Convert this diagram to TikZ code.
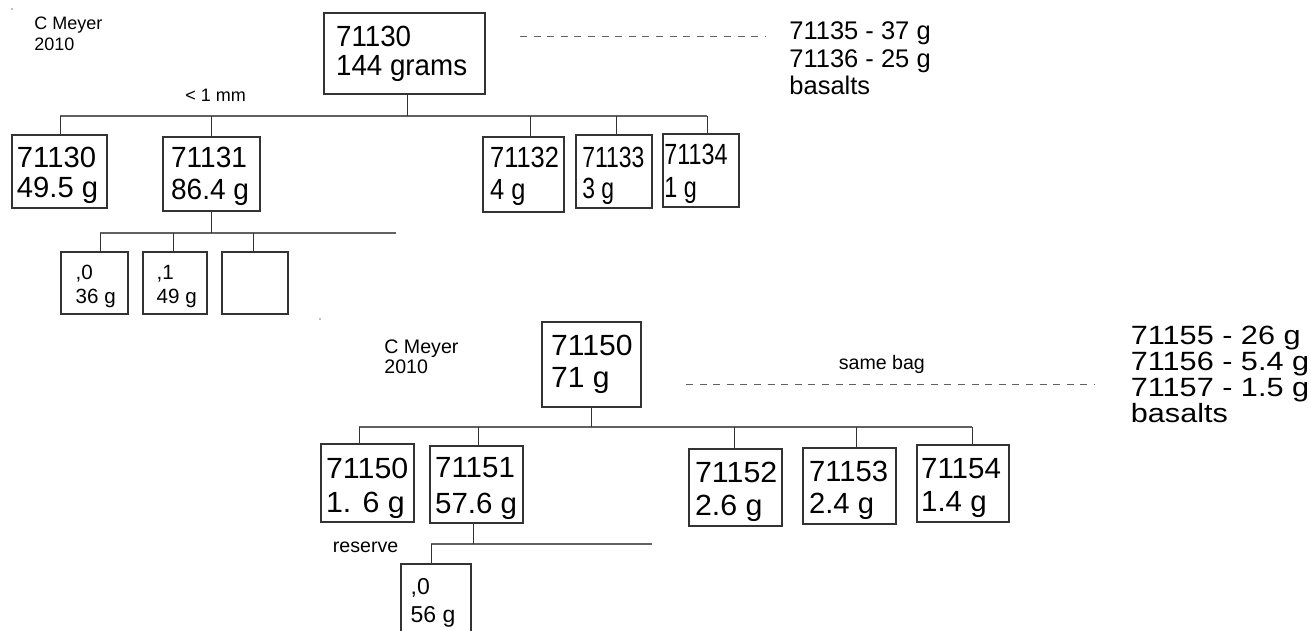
\documentclass[tikz,border=0pt]{standalone}
\usepackage{fontspec}
\setmainfont{Liberation Sans}
\usepackage{graphicx}
\usetikzlibrary{fit}
\definecolor{busgray}{gray}{0.38}
\definecolor{linegray}{gray}{0.2}
\newcommand\bxfont{\fontsize{14.6}{17}\selectfont}
\newcommand\smfont{\fontsize{9}{11}\selectfont}
\newcommand\smfontb{\fontsize{9.8}{11}\selectfont}
\newcommand\tinyboxfont{\fontsize{10.3}{12}\selectfont}
\newcommand\midboxfont{\fontsize{11.5}{14}\selectfont}
\newcommand\rtfont{\fontsize{12.75}{14}\selectfont}
\newcommand\rtfontb{\fontsize{13.2}{14}\selectfont}
\newcommand\twol[3]{\vtop{\baselineskip=#1\hbox{#2}\hbox{#3}}}
\begin{document}
\begin{tikzpicture}[x=0.5pt,y=-0.5pt,
  box/.style={draw=linegray, line width=0.55pt, inner sep=0pt, fit={#1}},
  txt/.style={inner sep=0pt, anchor=base west},
  bus/.style={draw=busgray, line width=0.7pt},
  conn/.style={draw=linegray, line width=0.5pt},
  dsh/.style={draw=busgray, line width=0.5pt, dash pattern=on 3.5pt off 3.3pt}]
\useasboundingbox (0,0) rectangle (1311,631);
\fill[white] (0,0) rectangle (1311,631);
\clip (0,0) rectangle (1311,631);

% ---------------- top diagram ----------------
\fill[gray] (12,9) circle (0.8);
\node[txt, font=\smfont] (cm1) at (34,30) {\twol{10.3pt}{C Meyer}{2010}};

\node[box={(324,13) (485,94)}] (r1) {};
\node[txt, font=\bxfont] (r1t) at (335.7,47) {\scalebox{0.95}[1]{\twol{14pt}{71130}{144 grams}}};

\coordinate (d1a) at (520,37);
\coordinate (d1b) at (765,37);
\draw[dsh] (d1a) -- (d1b);
\node[txt, font=\rtfont] (bas1) at (789,39.3) {\vtop{\baselineskip=13.9pt\hbox{71135 - 37 g}\hbox{71136 - 25 g}\hbox{basalts}}};

\node[txt, font=\smfont] (lt1) at (185,102) {\textless{} 1 mm};

\coordinate (bA1) at (60,116);
\coordinate (bA2) at (211,116);
\coordinate (bAr) at (407,116);
\coordinate (bA3) at (530,116);
\coordinate (bA4) at (616,116);
\coordinate (bA5) at (707,116);

\node[box={(12,135) (107,208)}] (c1) {};
\node[box={(163,137) (260,211)}] (c2) {};
\node[box={(483,137) (564,212)}] (c3) {};
\node[box={(576,135) (652,208)}] (c4) {};
\node[box={(663,134) (739,207)}] (c5) {};

\node[txt, font=\bxfont] (c1t) at (16.6,167) {\twol{15pt}{71130}{49.5 g}};
\node[txt, font=\bxfont] (c2t) at (170.7,168) {\scalebox{0.96}[1]{\twol{16pt}{71131}{86.4 g}}};
\node[txt, font=\bxfont] (c3t) at (489.8,168) {\scalebox{0.87}[1]{\twol{16pt}{71132}{4 g}}};
\node[txt, font=\bxfont] (c4t) at (581.9,167) {\scalebox{0.785}[1]{\twol{15.5pt}{71133}{3 g}}};
\node[txt, font=\bxfont] (c5t) at (663.9,164) {\scalebox{0.8}[1]{\twol{16.5pt}{71134}{1 g}}};

\draw[bus] (bA1) -- (bA5);
\draw[conn] (bAr |- r1.south) -- (bAr);
\draw[conn] (bA1) -- (bA1 |- c1.north);
\draw[conn] (bA2) -- (bA2 |- c2.north);
\draw[conn] (bA3) -- (bA3 |- c3.north);
\draw[conn] (bA4) -- (bA4 |- c4.north);
\draw[conn] (bA5) -- (bA5 |- c5.north);

\coordinate (bB1) at (100,233);
\coordinate (bBr) at (211,233);
\coordinate (bB2) at (173,233);
\coordinate (bB3) at (253,233);
\coordinate (bBe) at (396,233);

\node[box={(61,252) (128,314)}] (s1) {};
\node[box={(143,252) (207,314)}] (s2) {};
\node[box={(222,252) (288,314)}] (s3) {};
\node[txt, font=\tinyboxfont] (s1t) at (75.3,279) {\twol{12pt}{,0}{36 g}};
\node[txt, font=\tinyboxfont] (s2t) at (156.3,279) {\twol{12pt}{,1}{49 g}};

\draw[bus] (bB1) -- (bBe);
\draw[conn] (bBr |- c2.south) -- (bBr);
\draw[conn] (bB1) -- (bB1 |- s1.north);
\draw[conn] (bB2) -- (bB2 |- s2.north);
\draw[conn] (bB3) -- (bB3 |- s3.north);

\fill[gray] (320,319) circle (0.8);

% ---------------- bottom diagram ----------------
\node[txt, font=\smfontb] (cm2) at (384,353) {\twol{10pt}{C Meyer}{2010}};

\node[box={(542,322) (641,407)}] (r2) {};
\node[txt, font=\bxfont] (r2t) at (550.7,355) {\scalebox{1.03}[1]{\twol{16pt}{71150}{71 g}}};

\node[txt, font=\smfontb] (sb) at (838.4,369) {same bag};
\coordinate (d2a) at (686,384);
\coordinate (d2b) at (1095,384);
\draw[dsh] (d2a) -- (d2b);
\node[txt, font=\rtfontb] (bas2) at (1130.5,344) {\scalebox{1.16}[1]{\vtop{\baselineskip=13pt\hbox{71155 - 26 g}\hbox{71156 - 5.4 g}\hbox{71157 - 1.5 g}\hbox{basalts}}}};

\coordinate (bC1) at (359,427);
\coordinate (bC2) at (478,427);
\coordinate (bCr) at (591,427);
\coordinate (bC3) at (734,427);
\coordinate (bC4) at (856,427);
\coordinate (bC5) at (972,427);

\node[box={(321,444) (414,522)}] (e1) {};
\node[box={(430,446) (523,523)}] (e2) {};
\node[box={(689,449) (782,526)}] (e3) {};
\node[box={(803,448) (896,524)}] (e4) {};
\node[box={(917,445) (1009,522)}] (e5) {};

\node[txt, font=\bxfont] (e1t) at (325.7,478) {\scalebox{1.04}[1]{\twol{17pt}{71150}{1. 6 g}}};
\node[txt, font=\bxfont] (e2t) at (434.7,477) {\scalebox{1.01}[1]{\twol{18pt}{71151}{57.6 g}}};
\node[txt, font=\bxfont] (e3t) at (694.7,482) {\scalebox{1.04}[1]{\twol{16.5pt}{71152}{2.6 g}}};
\node[txt, font=\bxfont] (e4t) at (808.7,481) {\twol{16pt}{71153}{2.4 g}};
\node[txt, font=\bxfont] (e5t) at (920.7,478) {\scalebox{1.01}[1]{\twol{16.5pt}{71154}{1.4 g}}};

\draw[bus] (bC1) -- (bC5);
\draw[conn] (bCr |- r2.south) -- (bCr);
\draw[conn] (bC1) -- (bC1 |- e1.north);
\draw[conn] (bC2) -- (bC2 |- e2.north);
\draw[conn] (bC3) -- (bC3 |- e3.north);
\draw[conn] (bC4) -- (bC4 |- e4.north);
\draw[conn] (bC5) -- (bC5 |- e5.north);

\node[txt, font=\smfontb] (res) at (332.5,552) {reserve};

\coordinate (bD1) at (431,544);
\coordinate (bDr) at (473,544);
\coordinate (bDe) at (652,544);
\node[box={(401,564) (471,660)}] (f1) {};
\node[txt, font=\midboxfont] (f1t) at (410.3,594) {\twol{14pt}{,0}{56 g}};

\draw[bus] (bD1) -- (bDe);
\draw[conn] (bDr |- e2.south) -- (bDr);
\draw[conn] (bD1) -- (bD1 |- f1.north);
\end{tikzpicture}
\end{document}
